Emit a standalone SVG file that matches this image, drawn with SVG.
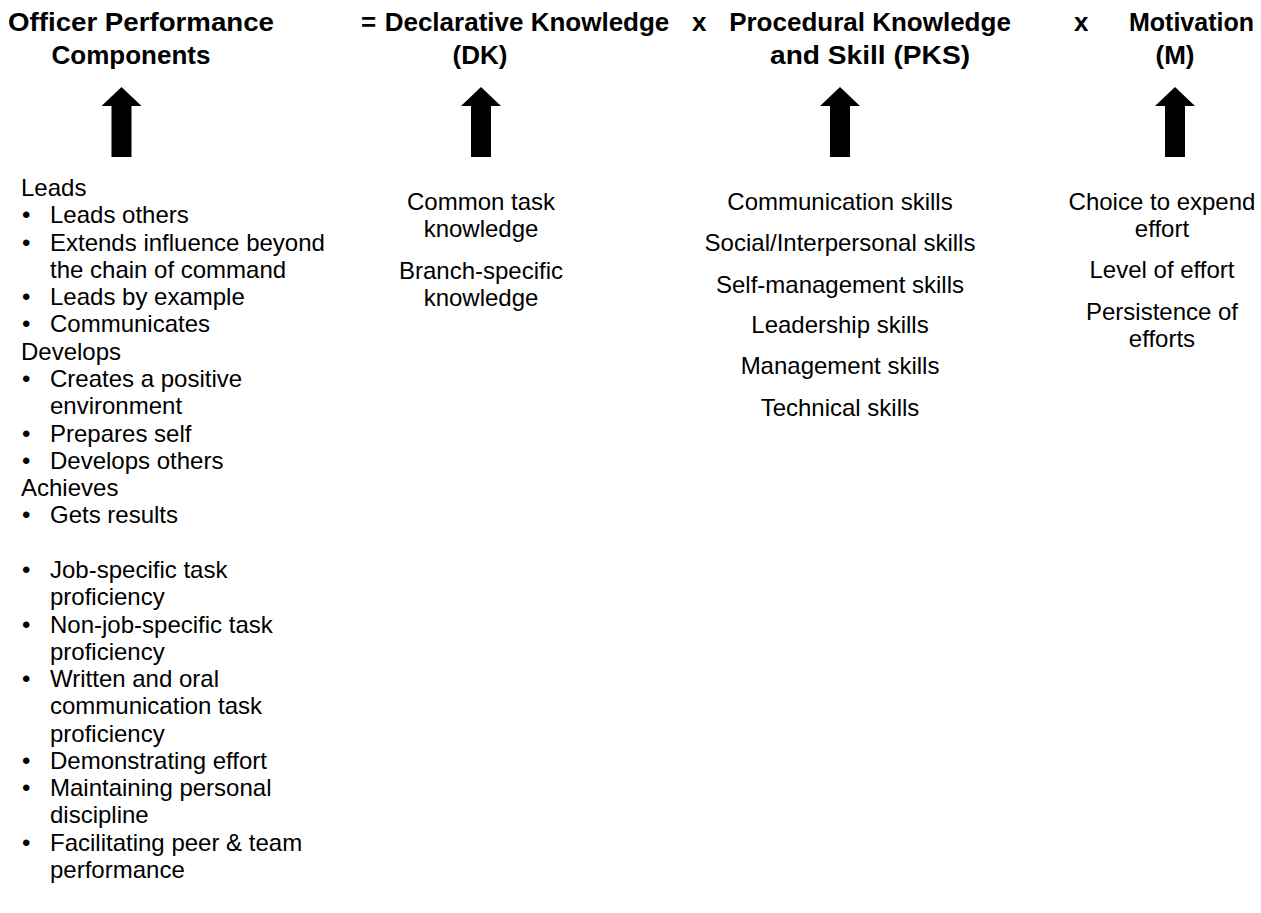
<svg xmlns="http://www.w3.org/2000/svg" width="1261" height="913" viewBox="0 0 1261 913">
<style>
.h{font-family:"Liberation Sans",Arial,sans-serif;font-weight:bold;font-size:26px;fill:#000}
.t{font-family:"Liberation Sans",Arial,sans-serif;font-size:24px;fill:#000}
.c{text-anchor:middle}
.arrow{fill:#000}
</style>
<rect width="1261" height="913" fill="#fff"/>
<g id="header-opc">
<text class="h" x="8" y="31" textLength="266" lengthAdjust="spacingAndGlyphs">Officer Performance</text>
<text class="h c" x="131" y="64">Components</text>
</g>
<g id="op-eq"><text class="h" x="361" y="31">=</text></g>
<g id="header-dk">
<text class="h c" x="527" y="31">Declarative Knowledge</text>
<text class="h c" x="480" y="64">(DK)</text>
</g>
<g id="op-x1"><text class="h" x="692" y="31">x</text></g>
<g id="header-pks">
<text class="h c" x="870" y="31">Procedural Knowledge</text>
<text class="h c" x="870" y="64" textLength="200" lengthAdjust="spacingAndGlyphs">and Skill (PKS)</text>
</g>
<g id="op-x2"><text class="h" x="1074" y="31">x</text></g>
<g id="header-m">
<text class="h" x="1129" y="31" style="font-size:25px">Motivation</text>
<text class="h c" x="1175" y="64">(M)</text>
</g>
<g id="connectors">
<polygon class="arrow" points="121.5,87 141.5,106 131.5,106 131.5,157 111.5,157 111.5,106 101.5,106"/>
<polygon class="arrow" points="481,87 501,106 491,106 491,157 471,157 471,106 461,106"/>
<polygon class="arrow" points="840,87 860,106 850,106 850,157 830,157 830,106 820,106"/>
<polygon class="arrow" points="1175,87 1195,106 1185,106 1185,157 1165,157 1165,106 1155,106"/>
</g>
<g id="list-opc" class="t">
<text x="21" y="196">Leads</text>
<text x="22" y="223.3">•</text><text x="50" y="223.3">Leads others</text>
<text x="22" y="250.6">•</text><text x="50" y="250.6">Extends influence beyond</text>
<text x="50" y="277.8">the chain of command</text>
<text x="22" y="305.1">•</text><text x="50" y="305.1">Leads by example</text>
<text x="22" y="332.4">•</text><text x="50" y="332.4">Communicates</text>
<text x="21" y="359.7">Develops</text>
<text x="22" y="387">•</text><text x="50" y="387">Creates a positive</text>
<text x="50" y="414.2">environment</text>
<text x="22" y="441.5">•</text><text x="50" y="441.5">Prepares self</text>
<text x="22" y="468.8">•</text><text x="50" y="468.8">Develops others</text>
<text x="21" y="496.1">Achieves</text>
<text x="22" y="523.4">•</text><text x="50" y="523.4">Gets results</text>
<text x="22" y="577.9">•</text><text x="50" y="577.9">Job-specific task</text>
<text x="50" y="605.2">proficiency</text>
<text x="22" y="632.5">•</text><text x="50" y="632.5">Non-job-specific task</text>
<text x="50" y="659.8">proficiency</text>
<text x="22" y="687">•</text><text x="50" y="687">Written and oral</text>
<text x="50" y="714.3">communication task</text>
<text x="50" y="741.6">proficiency</text>
<text x="22" y="768.9">•</text><text x="50" y="768.9">Demonstrating effort</text>
<text x="22" y="796.2">•</text><text x="50" y="796.2">Maintaining personal</text>
<text x="50" y="823.4">discipline</text>
<text x="22" y="850.7">•</text><text x="50" y="850.7">Facilitating peer &amp; team</text>
<text x="50" y="878">performance</text>
</g>
<g id="list-dk" class="t c">
<text x="481" y="210">Common task</text>
<text x="481" y="237">knowledge</text>
<text x="481" y="279">Branch-specific</text>
<text x="481" y="306">knowledge</text>
</g>
<g id="list-pks" class="t c">
<text x="840" y="210">Communication skills</text>
<text x="840" y="251">Social/Interpersonal skills</text>
<text x="840" y="293">Self-management skills</text>
<text x="840" y="333">Leadership skills</text>
<text x="840" y="374">Management skills</text>
<text x="840" y="416">Technical skills</text>
</g>
<g id="list-m" class="t c">
<text x="1162" y="210">Choice to expend</text>
<text x="1162" y="237">effort</text>
<text x="1162" y="278">Level of effort</text>
<text x="1162" y="320">Persistence of</text>
<text x="1162" y="347">efforts</text>
</g>
</svg>
